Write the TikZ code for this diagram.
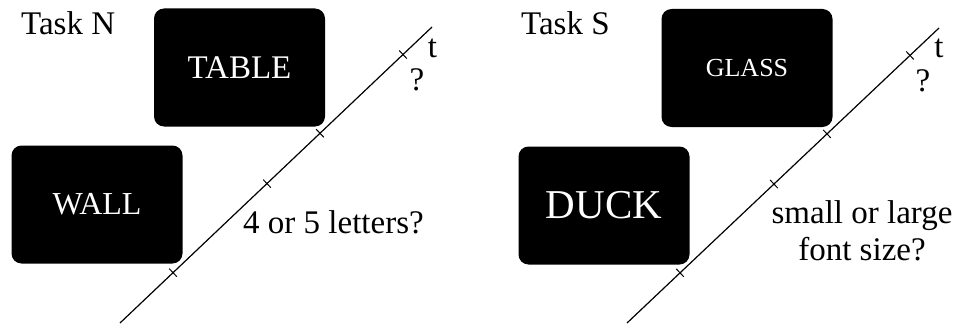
\documentclass[tikz,border=0pt]{standalone}
\usepackage{fontspec}
\setmainfont{Liberation Serif}
\usepackage{tikz}
\tikzstyle{word}=[rectangle,rounded corners=10pt,fill=black,text=white,minimum width=171pt,minimum height=118pt,inner sep=0pt]
\tikzstyle{tickmark}=[sloped,draw,line width=1pt,minimum width=0pt,minimum height=11pt,inner sep=0pt]
\tikzstyle{lbl}=[inner sep=0pt,font=\fontsize{33}{37}\selectfont]
\tikzstyle{timeline}=[line width=1.2pt]

\begin{document}
\begin{tikzpicture}[x=1pt,y=-1pt]
\useasboundingbox (0,0) rectangle (959,329);
% task N
\node[lbl,anchor=base west] at (21, 35) (taskN) {Task N};
\node[word,font=\fontsize{33}{37}\selectfont] at (239.5, 67.5) (table) {TABLE};
\node[word,font=\fontsize{32}{36}\selectfont] at (97, 204.5) (wall) {WALL};
\coordinate (n0) at (120, 323);
\coordinate (n1) at (432, 27);
\draw[timeline] (n0) -- (n1)
  node[tickmark,pos=0.17] (n2) {} node[tickmark,pos=0.471] (n3) {}
  node[tickmark,pos=0.641] (n4) {} node[tickmark,pos=0.907] (n5) {};
\node[lbl,anchor=base] at (432.5, 58) (tN) {t};
\node[lbl,anchor=base] at (417, 91) (qN) {?};
\node[lbl,anchor=base west] at (243, 233) (askN) {4 or 5 letters?};
% task S
\node[lbl,anchor=base west] at (521, 35) (taskS) {Task S};
\node[word,font=\fontsize{26}{30}\selectfont] at (747, 68) (glass) {GLASS};
\node[word,font=\fontsize{41}{45}\selectfont] at (604, 205.5) (duck) {DUCK};
\coordinate (s0) at (627, 323);
\coordinate (s1) at (939, 28);
\draw[timeline] (s0) -- (s1)
  node[tickmark,pos=0.17] (s2) {} node[tickmark,pos=0.471] (s3) {}
  node[tickmark,pos=0.641] (s4) {} node[tickmark,pos=0.907] (s5) {};
\node[lbl,anchor=base] at (939, 58) (tS) {t};
\node[lbl,anchor=base] at (923, 92) (qS) {?};
\node[lbl,anchor=base,align=center] at (862, 260) (askS) {small or large\\font size?};
\end{tikzpicture}
\end{document}
